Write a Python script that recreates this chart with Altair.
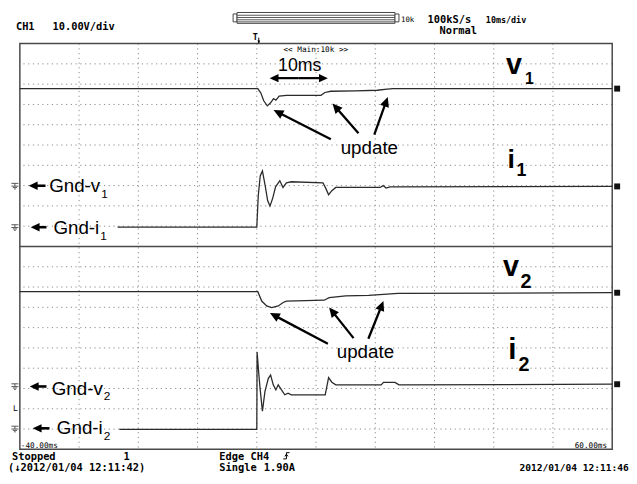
import math
import altair as alt
import pandas as pd

# ---------------- scope traces (time in ms, level in divisions; 0..20, panel split at 10) ----
V1_T = [-40, 0.17, 0.67, 1.17, 1.78, 2.33, 2.83, 3.22, 3.78, 5.0, 10.83, 11.5, 12.5, 16.67, 20.33, 22.0, 23.0, 60]
V1_D = [17.78, 17.78, 17.57, 17.18, 16.93, 17.08, 17.29, 17.21, 17.41, 17.45, 17.45, 17.59, 17.65, 17.67, 17.70, 17.75, 17.78, 17.78]
I1_T = [-23.5, 0, 0.25, 0.58, 0.95, 1.42, 1.83, 2.22, 2.67, 3.17, 3.89, 4.42, 5.0, 5.83, 11.17, 11.67, 12.12, 12.67, 13.33, 20.83, 21.33, 21.83, 22.5, 60]
I1_D = [10.95, 10.95, 12.51, 13.48, 13.72, 12.99, 12.26, 11.99, 12.36, 12.94, 13.24, 12.91, 13.14, 13.19, 13.14, 12.85, 12.55, 12.75, 12.91, 12.91, 13.0, 12.88, 12.94, 12.96]
V2_T = [-40, 0.17, 0.83, 1.67, 2.5, 3.62, 4.45, 5.0, 11.38, 12.22, 15.0, 18.88, 21.38, 23.83, 60]
V2_D = [7.77, 7.77, 7.31, 7.07, 6.99, 7.07, 7.24, 7.31, 7.35, 7.48, 7.56, 7.59, 7.64, 7.69, 7.72]
I2_T = [-23.2, 0, 0.05, 0.33, 0.55, 0.95, 1.38, 1.95, 2.33, 2.78, 3.22, 3.62, 4.17, 4.72, 5.28, 5.83, 11.55, 12.12, 12.67, 13.33, 21.0, 21.38, 23.33, 24.0, 60]
I2_D = [0.99, 0.99, 4.80, 3.75, 3.02, 1.88, 2.86, 3.50, 3.66, 3.18, 2.93, 3.18, 2.93, 2.69, 2.77, 2.69, 2.69, 3.54, 3.31, 3.18, 3.18, 3.30, 3.30, 3.18, 3.21]
SERIES = ["v1", "i1", "v2", "i2"]
GND_LEVELS = [12.99, 10.95, 3.11, 1.02]

# grid (10 ms/div horizontally, 20 sub-divisions vertically)
GRID_T = [-30, -20, -10, 0, 10, 20, 30, 40, 50]
GRID_D = [1, 2, 3, 4, 5, 6, 7, 8, 9, 11, 12, 13, 14, 15, 16, 17, 18, 19]
T_DOMAIN = [-40, 60]
D_DOMAIN = [0, 20]

# ---------------- layout ----------------
PX_L, PX_T, PW, PH = 20, 41, 600, 411


def tx(x):
    return T_DOMAIN[0] + (x - PX_L) * (T_DOMAIN[1] - T_DOMAIN[0]) / PW


def dy(y):
    return D_DOMAIN[1] - (y - PX_T) * (D_DOMAIN[1] - D_DOMAIN[0]) / PH


xenc = lambda f: alt.X(f, type="quantitative", scale=alt.Scale(domain=T_DOMAIN, nice=False, zero=False), axis=None)
yenc = lambda f: alt.Y(f, type="quantitative", scale=alt.Scale(domain=D_DOMAIN, nice=False, zero=False), axis=None)

# ---------------- traces ----------------
rows = []
for name, ts, ds in zip(SERIES, [V1_T, I1_T, V2_T, I2_T], [V1_D, I1_D, V2_D, I2_D]):
    for i, (t, d) in enumerate(zip(ts, ds)):
        rows.append({"series": name, "t": t, "d": d, "i": i})
trace_df = pd.DataFrame(rows)

traces = alt.Chart(trace_df).mark_line(color="#2b2b2b", strokeWidth=1.3).encode(
    x=xenc("t"), y=yenc("d"), detail="series:N", order="i:Q")

end_df = pd.DataFrame({"t": [tx(625)] * 4, "d": [V1_D[-1], I1_D[-1], V2_D[-1], I2_D[-1]]})
end_marks = alt.Chart(end_df).mark_point(shape="square", filled=True, size=36, color="#111", opacity=1).encode(
    x=xenc("t"), y=yenc("d"))

GND_PATH = "M-1,-0.7L1,-0.7M0,-0.7L0,0.1M-1,0.1L1,0.1M-0.6,0.5L0.6,0.5M-0.25,0.9L0.25,0.9"
gnd_df = pd.DataFrame({"t": [tx(15)] * 4, "d": GND_LEVELS})
gnd_marks = alt.Chart(gnd_df).mark_point(shape=GND_PATH, filled=False, size=50, stroke="#555", strokeWidth=1, opacity=1).encode(
    x=xenc("t"), y=yenc("d"))

# ---------------- grid & frame ----------------
vgrid = alt.Chart(pd.DataFrame({"t": GRID_T})).mark_rule(color="#8a8a8a", strokeDash=[1.2, 3.6], strokeWidth=1).encode(
    x=xenc("t"))
hgrid = alt.Chart(pd.DataFrame({"d": GRID_D})).mark_rule(color="#8a8a8a", strokeDash=[1.2, 3.6], strokeWidth=1).encode(
    y=yenc("d"))
frame = alt.Chart(pd.DataFrame({"t": [T_DOMAIN[0]], "t2": [T_DOMAIN[1]], "d": [D_DOMAIN[0]], "d2": [D_DOMAIN[1]]})).mark_rect(
    fillOpacity=0, stroke="#4a4a4a", strokeWidth=1.5).encode(x=xenc("t"), x2="t2", y=yenc("d"), y2="d2")
split = alt.Chart(pd.DataFrame({"d": [10]})).mark_rule(color="#4a4a4a", strokeWidth=1.5).encode(y=yenc("d"))

# ---------------- memory bar on top ----------------
BAR_X1 = [236, 240, 400]
BAR_X2 = [240, 400, 404]
BAR_Y1 = [11, 9.5, 11]
BAR_Y2 = [19, 20.5, 19]
bar_df = pd.DataFrame({"t": [tx(v) for v in BAR_X1], "t2": [tx(v) for v in BAR_X2],
                       "d": [dy(v) for v in BAR_Y1], "d2": [dy(v) for v in BAR_Y2]})
membar = alt.Chart(bar_df).mark_rect(fill="white", stroke="#444", strokeWidth=1).encode(
    x=xenc("t"), x2="t2", y=yenc("d"), y2="d2")
BAR_LINES_Y = [12.3, 14.6, 16.9, 19.0]
barl_df = pd.DataFrame({"t": [tx(240)] * 4, "t2": [tx(400)] * 4, "d": [dy(v) for v in BAR_LINES_Y]})
barlines = alt.Chart(barl_df).mark_rule(color="#555", strokeWidth=1).encode(x=xenc("t"), x2="t2", y=yenc("d"))

# ---------------- arrows (tail -> tip, pixel positions of annotations) ----------------
AR_TAIL_X = [46, 47, 47, 50, 302, 302, 335, 363, 379, 332, 358, 373]
AR_TAIL_Y = [185, 227, 388.3, 430.7, 76, 76, 138, 131.7, 133.3, 345, 339.3, 340]
AR_TIP_X = [29, 31, 30, 33, 273, 332, 277, 336.7, 392.7, 273.3, 333.3, 388.3]
AR_TIP_Y = [185, 227, 388.3, 430.7, 76, 76, 108.3, 101.7, 95, 314, 308.3, 301.7]
AR_HEAD = [9, 9, 9, 9, 9, 9, 10, 10, 10, 10, 10, 10]
AR_W = [2.6, 2.6, 2.6, 2.6, 2.2, 2.2, 2.3, 2.3, 2.3, 2.3, 2.3, 2.3]

shaft_rows, head_rows = [], []
for x0, y0, x1, y1, L, w in zip(AR_TAIL_X, AR_TAIL_Y, AR_TIP_X, AR_TIP_Y, AR_HEAD, AR_W):
    ddx, ddy = x1 - x0, y1 - y0
    n = math.hypot(ddx, ddy)
    ux, uy = ddx / n, ddy / n
    ex, ey = x1 - ux * 0.6 * L, y1 - uy * 0.6 * L
    shaft_rows.append({"t": tx(x0), "d": dy(y0), "t2": tx(ex), "d2": dy(ey), "sw": w})
    ang = math.degrees(math.atan2(ddx, -ddy)) % 360
    head_rows.append({"t": tx(x1), "d": dy(y1), "ang": ang, "sz": (2 * L) ** 2})
shafts = alt.Chart(pd.DataFrame(shaft_rows)).mark_rule(color="black").encode(
    x=xenc("t"), y=yenc("d"), x2="t2", y2="d2", strokeWidth=alt.StrokeWidth("sw:Q", scale=None))
HEAD_PATH = "M0,0L-0.47,1L0.47,1Z"
heads = alt.Chart(pd.DataFrame(head_rows)).mark_point(shape=HEAD_PATH, filled=True, fill="black", strokeWidth=0, opacity=1).encode(
    x=xenc("t"), y=yenc("d"), angle=alt.Angle("ang:Q", scale=None), size=alt.Size("sz:Q", scale=None))

# trigger position marker (small arrow under the "T")
trig_arrow = alt.Chart(pd.DataFrame({"t": [tx(262), tx(262)], "d": [dy(35), dy(40.5)], "k": [0, 1]})).mark_line(
    color="black", strokeWidth=1).encode(x=xenc("t"), y=yenc("d"), order="k:Q")
trig_head = alt.Chart(pd.DataFrame({"t": [tx(262)], "d": [dy(41)], "ang": [180], "sz": [36]})).mark_point(
    shape=HEAD_PATH, filled=True, fill="black", strokeWidth=0, opacity=1).encode(
    x=xenc("t"), y=yenc("d"), angle=alt.Angle("ang:Q", scale=None), size=alt.Size("sz:Q", scale=None))

# ---------------- texts ----------------
MONO = "DejaVu Sans Mono, Liberation Mono, monospace"
SANS = "Liberation Sans, Arial, sans-serif"


def text_layer(texts, xs, ys, sizes, font, weight="normal", align="left"):
    df = pd.DataFrame({"txt": texts, "t": [tx(v) for v in xs], "d": [dy(v) for v in ys], "fs": sizes})
    return alt.Chart(df).mark_text(align=align, baseline="alphabetic", font=font, fontWeight=weight, color="black").encode(
        x=xenc("t"), y=yenc("d"), text="txt:N", size=alt.Size("fs:Q", scale=None))


SCOPE_B_TXT = ["CH1", "10.00V/div", "100kS/s", "10ms/div", "Normal", "Stopped", "1", "Edge CH4",
               "(\u21932012/01/04 12:11:42)", "Single", "1.90A", "2012/01/04 12:11:46", "T"]
SCOPE_B_X = [16, 53, 433, 492, 445, 12, 125, 222, 8, 222, 267, 526, 256]
SCOPE_B_Y = [27, 27, 20.5, 20.5, 31.5, 463, 463, 463, 474, 474, 474, 474, 37]
SCOPE_B_FS = [10.5, 10.5, 10.5, 8.5, 10.5, 10.5, 10.5, 10.5, 10.5, 10.5, 10.5, 9.7, 8.5]
scope_b = text_layer(SCOPE_B_TXT, SCOPE_B_X, SCOPE_B_Y, SCOPE_B_FS, MONO, "bold")

SCOPE_N_TXT = ["10k", "<< Main:10k >>", "-40.00ms", "60.00ms", "L"]
SCOPE_N_X = [406, 287, 21, 582, 13]
SCOPE_N_Y = [19, 49.5, 450.5, 450.5, 413]
SCOPE_N_FS = [7.5, 7.8, 7.8, 7.8, 8]
scope_n = text_layer(SCOPE_N_TXT, SCOPE_N_X, SCOPE_N_Y, SCOPE_N_FS, MONO, "normal")

trig_df = pd.DataFrame({"t": [tx(290)], "d": [dy(458.5)]})
trig = alt.Chart(trig_df).mark_point(shape="M-1,1L0,1L0,-1L1,-1M-0.5,0.2L0,-0.5L0.5,0.2", filled=False, size=40,
                                     stroke="black", strokeWidth=1, opacity=1).encode(x=xenc("t"), y=yenc("d"))

ANN_L_TXT = ["Gnd-v", "1", "Gnd-i", "1", "Gnd-v", "2", "Gnd-i", "2"]
ANN_L_X = [49.7, 102.4, 54, 101.5, 52.3, 105, 57.5, 105]
ANN_L_Y = [191.5, 197, 234, 240, 396.7, 402, 436.7, 442.5]
ANN_L_FS = [19, 12, 19, 12, 19, 12, 19, 12]
ann_l = text_layer(ANN_L_TXT, ANN_L_X, ANN_L_Y, ANN_L_FS, SANS)

ANN_C_TXT = ["10ms", "update", "update"]
ANN_C_X = [303.5, 374, 370]
ANN_C_Y = [69, 152.7, 359.3]
ANN_C_FS = [18, 19, 19]
ann_c = text_layer(ANN_C_TXT, ANN_C_X, ANN_C_Y, ANN_C_FS, SANS, align="center")

ANN_B_TXT = ["v", "1", "i", "1", "v", "2", "i", "2"]
ANN_B_X = [512.5, 531.7, 514, 523, 509.5, 527, 514.7, 525]
ANN_B_Y = [71.7, 82.3, 167.3, 175, 276.7, 288.3, 360.7, 372.7]
ANN_B_FS = [29, 16, 27, 18, 29, 20, 30, 20]
ann_b = text_layer(ANN_B_TXT, ANN_B_X, ANN_B_Y, ANN_B_FS, SANS, "bold")

chart = alt.layer(
    vgrid, hgrid, frame, split, membar, barlines, traces, end_marks, gnd_marks,
    shafts, heads, trig_arrow, trig_head, scope_b, scope_n, trig, ann_l, ann_c, ann_b
).properties(
    width=PW, height=PH,
    autosize=alt.AutoSizeParams(type="none"),
    padding={"left": 12, "top": 33, "right": 17, "bottom": 28},
    background="white",
).configure_view(strokeWidth=0)

chart.save("out.html", embed_options={"renderer": "svg", "actions": False})
